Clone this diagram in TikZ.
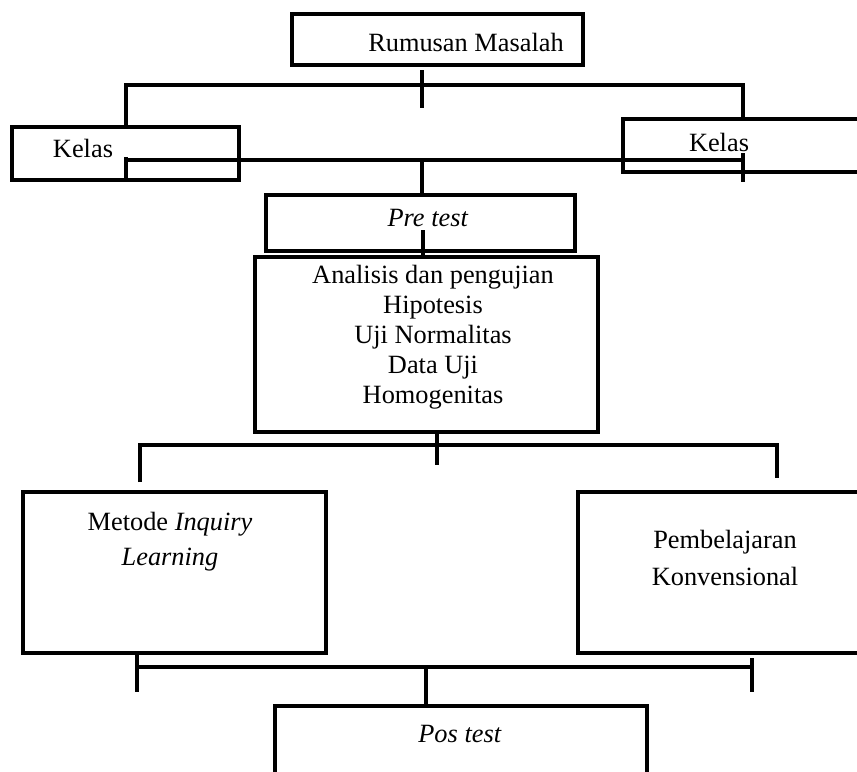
\documentclass[tikz,border=0pt]{standalone}
\usepackage{fontspec}
\setmainfont{Liberation Serif}
\usetikzlibrary{fit}

\tikzset{
  box/.style={draw, line width=2pt, inner sep=0pt},
  txt/.style={font=\fontsize{15}{17}\selectfont, inner sep=0pt, align=center},
  link/.style={line width=1.9pt}
}

\begin{document}
\begin{tikzpicture}[x=0.02cm, y=-0.02cm]
  \useasboundingbox (0,0) rectangle (857,771);
  \clip (0,0) rectangle (857,771);

  % rumusan masalah
  \node[box, fit={(292,14) (583,65)}] (rumusan) {};
  \node[txt] (rumusanTxt) at (466,42) {Rumusan Masalah};

  % kelas (left and right)
  \node[box, fit={(12,127) (239,180)}] (kelasL) {};
  \node[txt] (kelasLTxt) at (83,148) {Kelas};
  \node[box, fit={(623,119) (890,172)}] (kelasR) {};
  \node[txt] (kelasRTxt) at (719,142) {Kelas};

  % pre test
  \node[box, fit={(266,195) (575,251)}] (pre) {};
  \node[txt] (preTxt) at (428,218) {\textit{Pre test}};

  % analisis
  \node[box, fit={(255,257) (598,432)}] (analisis) {};
  \node[txt] (analisisTxt) at (433,337)
    {Analisis dan pengujian\\Hipotesis\\Uji Normalitas\\Data Uji\\Homogenitas};

  % metode and konvensional
  \node[box, fit={(23,492) (326,653)}] (metode) {};
  \node[txt, font=\fontsize{15}{20}\selectfont] (metodeTxt) at (170,542)
    {Metode \textit{Inquiry}\\\textit{Learning}};
  \node[box, fit={(578,492) (890,653)}] (konv) {};
  \node[txt, font=\fontsize{15}{21}\selectfont] (konvTxt) at (725,558)
    {Pembelajaran\\Konvensional};

  % pos test
  \node[box, fit={(275,706) (647,800)}] (pos) {};
  \node[txt] (posTxt) at (460,734) {\textit{Pos test}};

  % top bracket
  \coordinate (a1) at (422,70);
  \coordinate (a2) at (422,108);
  \coordinate (aL) at (126,85);
  \coordinate (aR) at (743,85);
  \draw[link] (a1) -- (a2);
  \draw[link] (kelasL.north -| aL) -- (aL) -- (aR) -- (kelasR.north -| aR);

  % second bracket
  \coordinate (b) at (422,160);
  \coordinate (bL) at (126,160);
  \coordinate (bR) at (743,160);
  \coordinate (bLtop) at (126,157);
  \coordinate (bLbot) at (126,182);
  \coordinate (bRtop) at (743,153);
  \coordinate (bRbot) at (743,182);
  \draw[link] (bL) -- (bR);
  \draw[link] (bLtop) -- (bLbot);
  \draw[link] (bRtop) -- (bRbot);
  \draw[link] (b) -- (b |- pre.north);

  % pre test to analisis
  \coordinate (c) at (423,230);
  \draw[link] (c) -- (c |- analisis.north);

  % third bracket
  \coordinate (d) at (437,445);
  \coordinate (dMid) at (437,465);
  \coordinate (dL) at (140,445);
  \coordinate (dR) at (777,445);
  \coordinate (dLend) at (140,482);
  \coordinate (dRend) at (777,478);
  \draw[link] (d |- analisis.south) -- (dMid);
  \draw[link] (dLend) -- (dL) -- (dR) -- (dRend);

  % bottom bracket
  \coordinate (e) at (426,667);
  \coordinate (eL) at (137,667);
  \coordinate (eR) at (752,667);
  \coordinate (eLbot) at (137,692);
  \coordinate (eRtop) at (752,658);
  \coordinate (eRbot) at (752,692);
  \draw[link] (eL |- metode.south) -- (eLbot);
  \draw[link] (eL) -- (eR);
  \draw[link] (eRtop) -- (eRbot);
  \draw[link] (e) -- (e |- pos.north);

\end{tikzpicture}
\end{document}
